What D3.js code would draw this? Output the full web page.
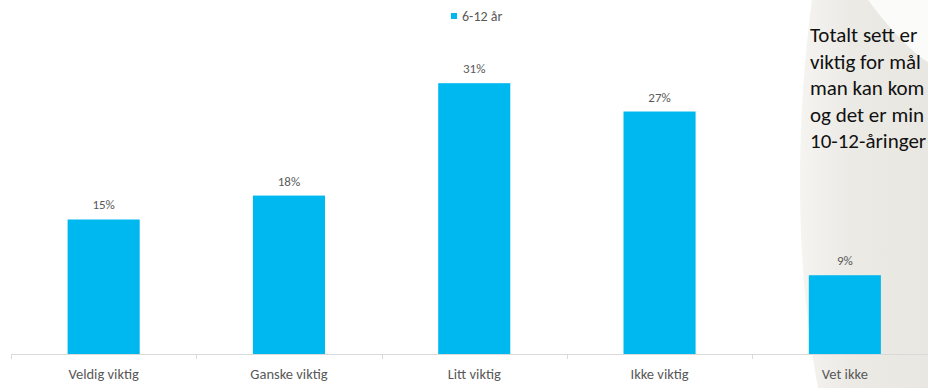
<!DOCTYPE html>
<html>
<head>
<meta charset="UTF-8">
<title>Viktighet 6-12 år</title>
<script src="https://d3js.org/d3.v7.min.js"></script>
<style>
    body, html {
        margin: 0;
        padding: 0;
        background: #ffffff;
        overflow: hidden;
    }
    svg text {
        font-family: Calibri, Carlito, Lato, sans-serif;
    }
</style>
</head>
<body>
<div id="chart"></div>
<script>
    // data
    const categories = ["Veldig viktig", "Ganske viktig", "Litt viktig", "Ikke viktig", "Vet ikke"];
    const values = [0.152, 0.179, 0.306, 0.274, 0.089];
    const seriesName = "6-12 år";
    const noteLines = ["Totalt sett er", "viktig for mål", "man kan kom", "og det er min", "10-12-åringer"];

    const width = 928, height = 388;
    const baseY = 354;

    const svg = d3.select("#chart").append("svg")
        .attr("width", width)
        .attr("height", height);

    // slide background swoosh on the right
    const defs = svg.append("defs");
    const grad = defs.append("linearGradient")
        .attr("id", "bgGrad")
        .attr("x1", "0").attr("y1", "0")
        .attr("x2", "1").attr("y2", "0");
    grad.append("stop").attr("offset", "0").attr("stop-color", "#f5f4f1");
    grad.append("stop").attr("offset", "0.4").attr("stop-color", "#ebeae5");
    grad.append("stop").attr("offset", "1").attr("stop-color", "#e8e7e2");

    svg.append("path")
        .attr("d", "M812,0 C796,120 794,260 818,388 L928,388 L928,0 Z")
        .attr("fill", "url(#bgGrad)");
    svg.append("path")
        .attr("d", "M868,0 C890,30 915,55 928,62 L928,0 Z")
        .attr("fill", "#fbfbfa");

    const x = d3.scaleBand()
        .domain(categories)
        .range([11, 937.5])
        .paddingInner(0.611)
        .paddingOuter(0.3055);

    const y = d3.scaleLinear()
        .domain([0, 0.35])
        .range([baseY, baseY - 0.35 * 885]);

    // bars
    svg.selectAll(".bar")
        .data(values)
        .enter().append("rect")
        .attr("class", "bar")
        .attr("x", (d, i) => x(categories[i]))
        .attr("y", d => y(d))
        .attr("width", x.bandwidth())
        .attr("height", d => baseY - y(d))
        .attr("fill", "#00b8f0");

    // value labels
    svg.selectAll(".val")
        .data(values)
        .enter().append("text")
        .attr("class", "val")
        .attr("x", (d, i) => x(categories[i]) + x.bandwidth() / 2)
        .attr("y", d => y(d) - 10)
        .attr("text-anchor", "middle")
        .attr("font-size", "13px")
        .attr("fill", "#595959")
        .text(d => d3.format(".0%")(d));

    // x axis
    const axis = svg.append("g")
        .attr("transform", "translate(0," + (baseY + 0.5) + ")")
        .call(d3.axisBottom(x).tickSize(0).tickPadding(0));
    axis.select(".domain").remove();
    axis.selectAll("text")
        .attr("y", 24)
        .attr("dy", 0)
        .attr("font-size", "14.5px")
        .attr("fill", "#595959");

    svg.append("line")
        .attr("x1", 11).attr("x2", width)
        .attr("y1", baseY + 0.5).attr("y2", baseY + 0.5)
        .attr("stroke", "#d9d9d9");

    const bounds = d3.range(categories.length + 1).map(i => 11 + i * x.step());
    svg.selectAll(".bnd")
        .data(bounds)
        .enter().append("line")
        .attr("class", "bnd")
        .attr("x1", d => Math.round(d) + 0.5).attr("x2", d => Math.round(d) + 0.5)
        .attr("y1", baseY).attr("y2", baseY + 5)
        .attr("stroke", "#d9d9d9");

    // legend
    const legend = svg.append("g").attr("transform", "translate(451,13)");
    legend.append("rect")
        .attr("width", 6).attr("height", 6)
        .attr("fill", "#00b8f0");
    legend.append("text")
        .attr("x", 11).attr("y", 7.5)
        .attr("font-size", "14px")
        .attr("fill", "#595959")
        .text(seriesName);

    // note text on the right (cut off by the slide edge)
    svg.selectAll(".note")
        .data(noteLines)
        .enter().append("text")
        .attr("class", "note")
        .attr("x", 810)
        .attr("y", (d, i) => 42 + i * 26.6)
        .attr("font-size", "21px")
        .attr("fill", "#111111")
        .text(d => d);
</script>
</body>
</html>
